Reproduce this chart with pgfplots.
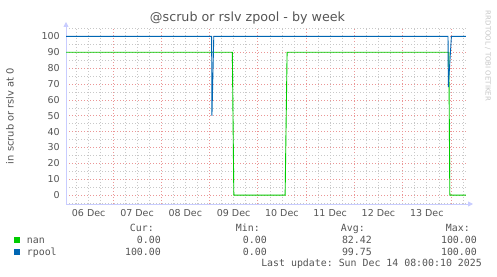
\documentclass[border=0pt]{standalone}
\usepackage{pgfplots}
\pgfplotsset{compat=1.18}
\usetikzlibrary{arrows.meta}
\usepackage{fontspec}
\setmainfont{DejaVu Sans}
\setmonofont{DejaVu Sans Mono}
\definecolor{txt}{HTML}{555555}
\definecolor{cgreen}{HTML}{00CC00}
\definecolor{cblue}{HTML}{0066B3}
\definecolor{axl}{RGB}{200,204,255}
\definecolor{mgrid}{RGB}{235,150,150}
\definecolor{ngrid}{RGB}{200,200,200}
\begin{document}
\begin{tikzpicture}[x=1pt,y=1pt]
\path[fill=white,use as bounding box] (0,0) rectangle (497,276);
\begin{axis}[
  at={(66pt,72pt)}, anchor=south west,
  scale only axis, width=401pt, height=176pt,
  xmin=0.03, xmax=8.333, ymin=-5.6, ymax=105.3,
  axis x line=bottom, axis y line=left,
  x axis line style={draw=axl, line width=0.8pt, -{Triangle[width=5pt,length=5pt]}, shorten >=-6pt},
  y axis line style={draw=axl, line width=0.8pt, -{Triangle[width=5pt,length=5pt]}, shorten >=-6pt},
  xtick={1,2,3,4,5,6,7,8}, xticklabels={},
  minor xtick={0.25,0.5,0.75,1.25,1.5,1.75,2.25,2.5,2.75,3.25,3.5,3.75,4.25,4.5,4.75,5.25,5.5,5.75,6.25,6.5,6.75,7.25,7.5,7.75,8.25},
  extra x ticks={0.5,1.5,2.5,3.5,4.5,5.5,6.5,7.5},
  extra x tick labels={06 Dec,07 Dec,08 Dec,09 Dec,10 Dec,11 Dec,12 Dec,13 Dec},
  extra x tick style={grid=none, major tick length=0pt},
  ytick={0,10,20,30,40,50,60,70,80,90,100},
  minor ytick={-5,5,15,25,35,45,55,65,75,85,95,105},
  grid=both,
  major grid style={draw=mgrid, line width=0.6pt, dash pattern=on 1pt off 2pt},
  minor grid style={draw=ngrid, line width=0.6pt, dash pattern=on 1pt off 2pt},
  major tick length=0pt, minor tick length=0pt,
  /pgf/number format/assume math mode=true,
  tick label style={font=\fontsize{9.5}{11}\selectfont, text=txt},
  x tick label style={anchor=base, yshift=-12.5pt},
  y tick label style={anchor=east, xshift=-2.8pt},
]
\addplot[cgreen, line width=0.9pt] coordinates {
(0.03,90) (3.474,90) (3.505,0) (4.567,0) (4.608,90) (7.957,90) (7.977,0) (8.308,0)};
\addplot[cblue, line width=0.9pt] coordinates {
(0.03,100) (3.045,100) (3.052,50) (3.09,100) (7.94,100) (7.946,68) (8.01,100) (8.31,100)};
\end{axis}
\node[anchor=base, text=txt, font=\fontsize{12.7}{14}\selectfont] at (247.5,254) {@scrub or rslv zpool - by week};
\node[rotate=90, text=txt, font=\fontsize{9.9}{12}\selectfont] at (10,160) {in scrub or rslv at 0};
\node[rotate=-90, text=black!22, font=\fontsize{7}{8}\selectfont] at (488,220) {RRDTOOL / TOBI OETIKER};
\begin{scope}[every node/.style={anchor=base east, inner sep=0pt, text=txt, font=\ttfamily\fontsize{9.9}{12}\selectfont}]
\node at (154,44.7) {Cur:};
\node at (260,44.7) {Min:};
\node at (365,44.7) {Avg:};
\node at (470,44.7) {Max:};
\node at (161,32.4) {0.00};
\node at (267,32.4) {0.00};
\node at (372,32.4) {82.42};
\node at (477,32.4) {100.00};
\node at (161,21) {100.00};
\node at (267,21) {0.00};
\node at (372,21) {99.75};
\node at (477,21) {100.00};
\node at (482,9.4) {Last update: Sun Dec 14 08:00:10 2025};
\node[anchor=base west] at (26.7,32.4) {nan};
\node[anchor=base west] at (26.7,21) {rpool};
\end{scope}
\fill[cgreen] (14,33) rectangle (20,39);
\fill[cblue] (14,21.5) rectangle (20,27.5);
\end{tikzpicture}
\end{document}
